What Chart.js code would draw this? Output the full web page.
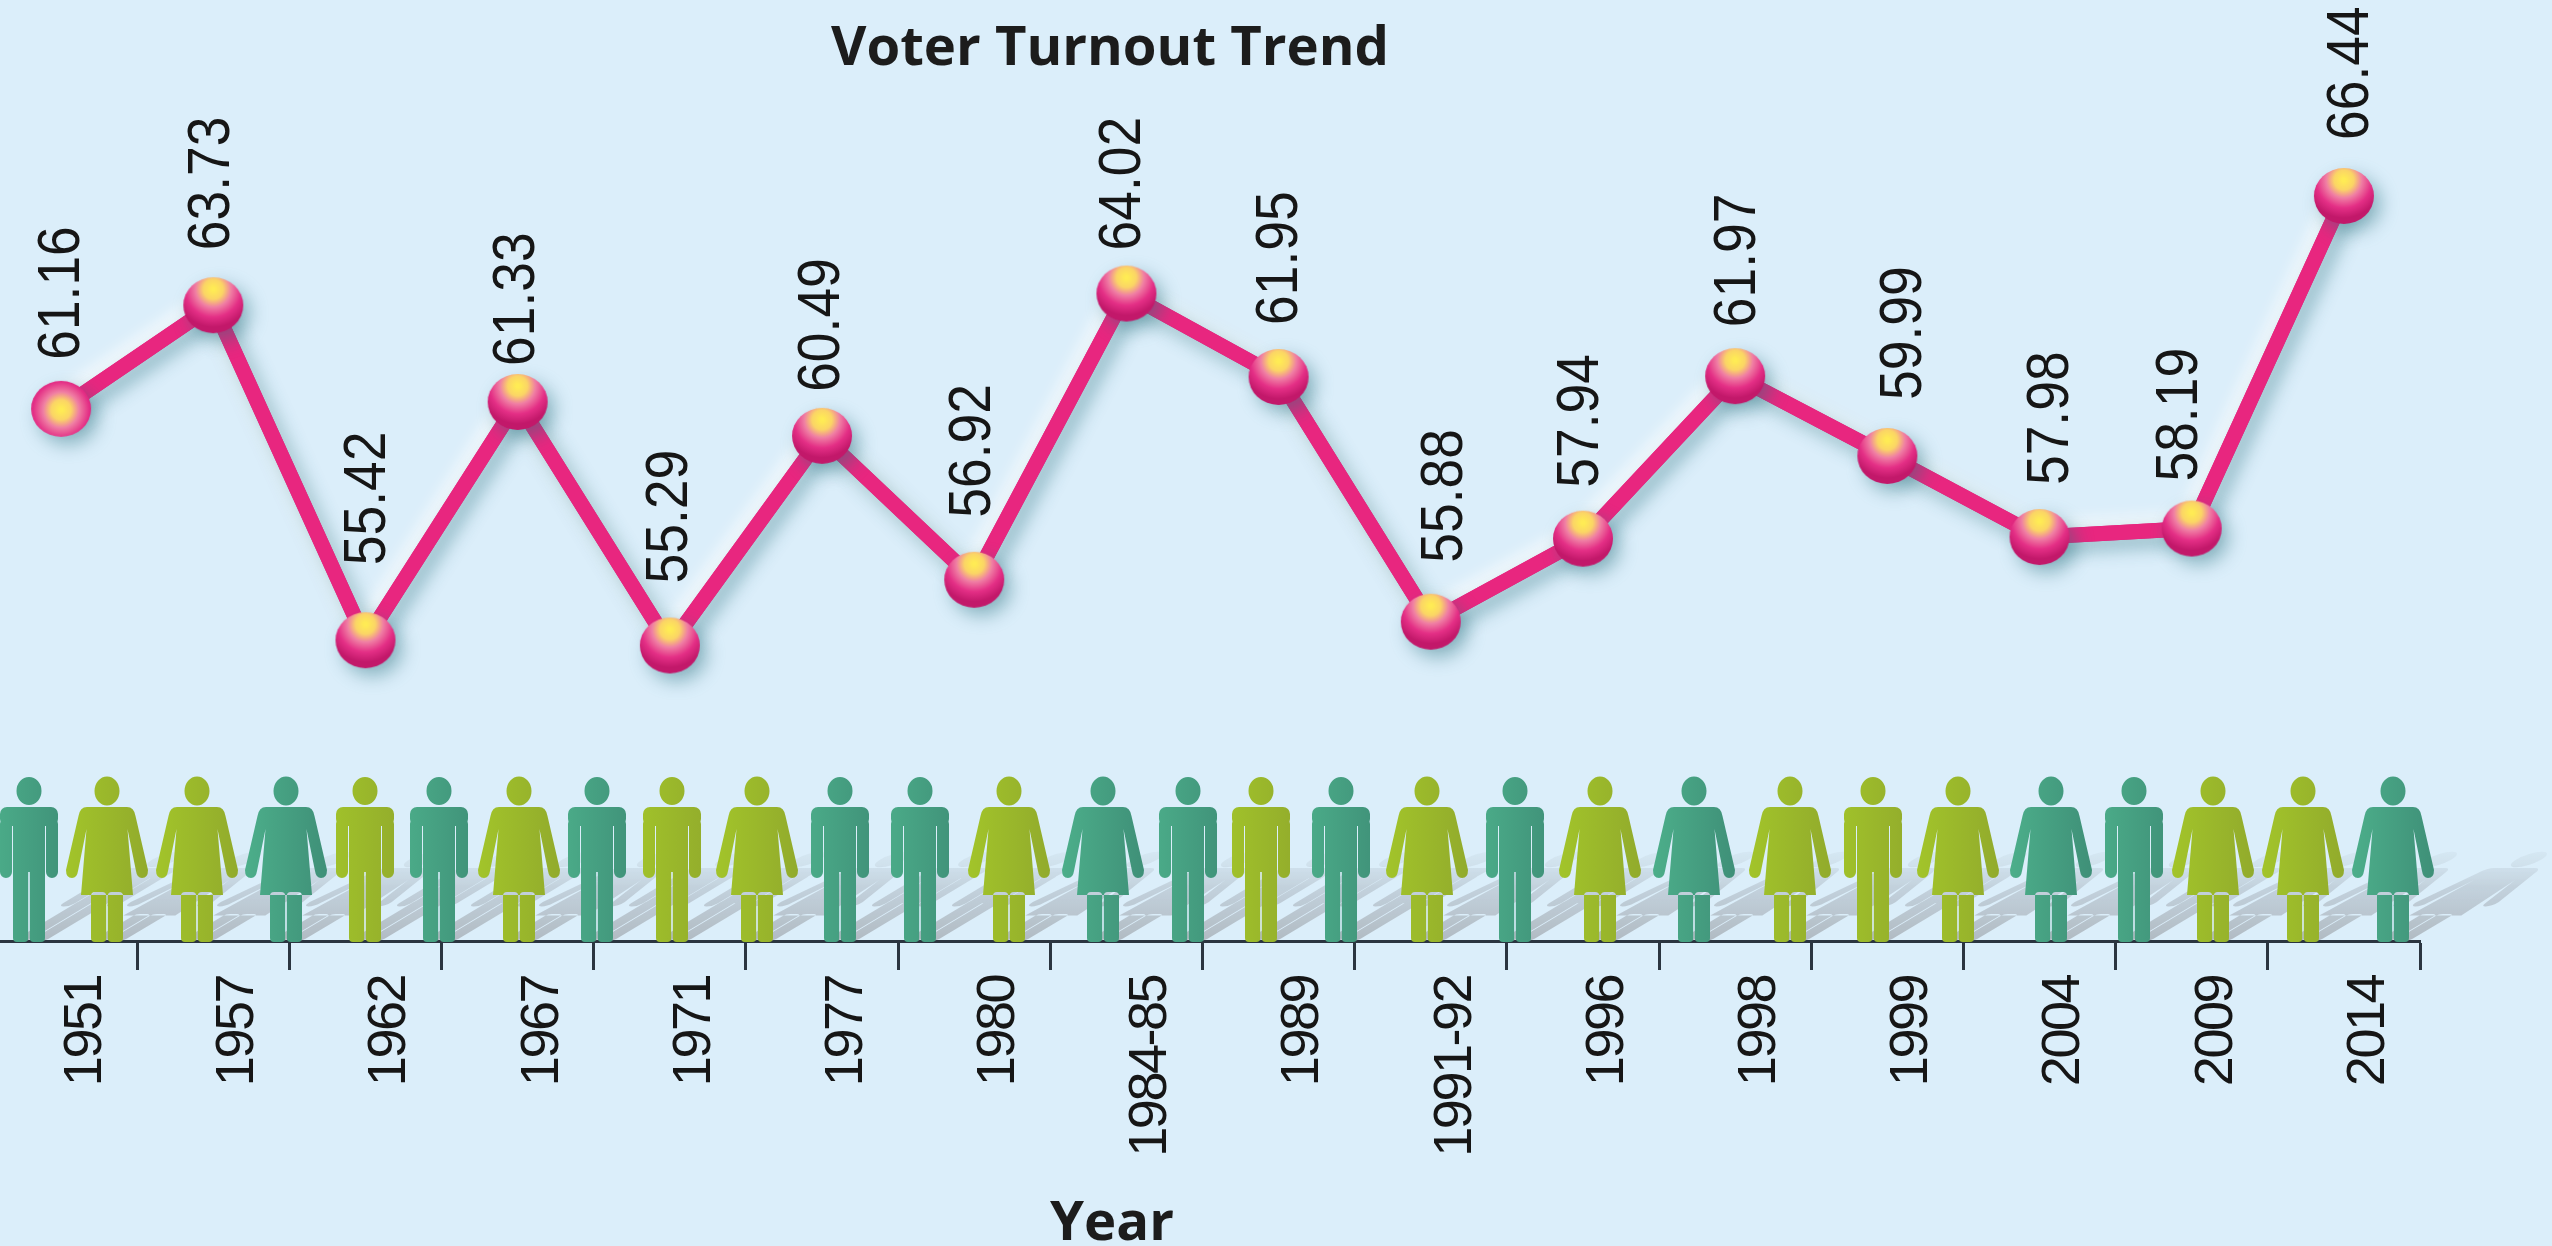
<!DOCTYPE html>
<html>
<head>
<meta charset="utf-8">
<style>
html,body{margin:0;padding:0;width:2552px;height:1246px;overflow:hidden;background:#DBEEFA}
#wrap{position:absolute;left:0;top:0;width:2552px;height:1246px;overflow:hidden}
canvas{position:absolute;left:-15px;top:0}
</style>
<script src="https://cdn.jsdelivr.net/npm/chart.js@4"></script>
</head>
<body>
<div id="wrap"><canvas id="c" width="2567" height="1246"></canvas></div>
<script>
const years = ['1951','1957','1962','1967','1971','1977','1980','1984-85','1989','1991-92','1996','1998','1999','2004','2009','2014'];
const turnout = [61.16,63.73,55.42,61.33,55.29,60.49,56.92,64.02,61.95,55.88,57.94,61.97,59.99,57.98,58.19,66.44];
const titleText = 'Voter Turnout Trend';
const axisText = 'Year';

// Label layout, kept apart from the values: [shift along x, gap above the point]
const labelShiftX = [1,-1,3,0,1,0,-1,-3,2,15,-2,3,17,12,-11,8];
const labelGap = [49,55,75,36,62,44,62,43,52,59,51,49,56,52,47,56];

// Decorative row of figures
const figureKinds = 'mwwwmmwmmwmmwwmmmwmwwwmwwmwww'.split('');
const figureTones = 'tlltltltllttlttltltltllltt'.concat('llt').split('');
const figureAt = [29,107,197,286,365,439,519,597,672,757,840,920,1009,1103,1188,1261,1341,1427,1515,1600,1694,1790,1873,1958,2051,2134,2213,2303,2393];

const OFFSET = 15, AXIS_Y = 941;
const FONT = '"Liberation Sans",Arial,sans-serif';

function sphere(hy){
  const c = document.createElement('canvas'); c.width = 64; c.height = 60;
  const g = c.getContext('2d');
  const gr = g.createRadialGradient(32, hy, 2, 32, hy, 38);
  gr.addColorStop(0,'#FFEB55'); gr.addColorStop(.22,'#FBD566'); gr.addColorStop(.44,'#F07FA4');
  gr.addColorStop(.72,'#E42F86'); gr.addColorStop(1,'#C2186A');
  g.fillStyle = gr; g.beginPath(); g.ellipse(32,30,30,28,0,0,Math.PI*2); g.fill();
  return c;
}
const ballTop = sphere(14), ballMid = sphere(31);

function manPath(c){
  c.beginPath();
  c.ellipse(0,151,12.5,14,0,0,Math.PI*2);
  c.roundRect(-29,116,58,19,7);
  c.roundRect(-29,64,12,60,6);
  c.roundRect(17,64,12,60,6);
  c.rect(-16,70,32,50);
  c.roundRect(-16,0,15.2,76,4);
  c.roundRect(0.8,0,15.2,76,4);
}
function womanPath(c){
  c.beginPath();
  c.ellipse(0,151,12.5,14.5,0,0,Math.PI*2);
  c.moveTo(-20,135); c.lineTo(20,135);
  c.quadraticCurveTo(27,135,28.5,126);
  c.lineTo(41,72); c.quadraticCurveTo(41,64,35,64); c.quadraticCurveTo(30,64,29,71);
  c.lineTo(20.5,113); c.lineTo(26,47); c.lineTo(-26,47); c.lineTo(-20.5,113);
  c.lineTo(-29,71); c.quadraticCurveTo(-30,64,-35,64); c.quadraticCurveTo(-41,64,-41,72);
  c.lineTo(-28.5,126); c.quadraticCurveTo(-27,135,-20,135);
  c.closePath();
  c.roundRect(-16,0,15.2,50,4);
  c.roundRect(0.8,0,15.2,50,4);
}

const scenery = {
  id:'scenery',
  beforeDraw(chart){ chart.ctx.letterSpacing = '-2.5px'; },
  beforeDatasetsDraw(chart){
    const c = chart.ctx;
    c.letterSpacing = '0px';
    c.save();
    figureAt.forEach((x,i)=>{
      c.save();
      c.transform(1,0,0.9,-0.54,x+OFFSET,AXIS_Y);
      const g = c.createLinearGradient(0,0,0,165);
      g.addColorStop(0,'rgba(160,166,172,.72)'); g.addColorStop(.6,'rgba(170,180,190,.5)'); g.addColorStop(1,'rgba(190,205,215,.2)');
      c.fillStyle = g;
      (figureKinds[i]==='m'?manPath:womanPath)(c);
      c.fill();
      c.restore();
    });
    figureAt.forEach((x,i)=>{
      c.save();
      c.transform(1,0,0,-1,x+OFFSET,AXIS_Y+1);
      const g = c.createLinearGradient(-40,0,40,0);
      if(figureTones[i]==='t'){ g.addColorStop(0,'#4CAE8A'); g.addColorStop(1,'#3F9078'); }
      else { g.addColorStop(0,'#A2C42A'); g.addColorStop(1,'#92AB2C'); }
      c.fillStyle = g;
      (figureKinds[i]==='m'?manPath:womanPath)(c);
      c.fill();
      c.restore();
    });
    c.restore();
  },
  beforeDatasetDraw(chart,args){
    const c = chart.ctx, meta = args.meta;
    c.save();
    c.shadowColor='rgba(255,255,255,.85)'; c.shadowBlur=16; c.shadowOffsetX=-5; c.shadowOffsetY=-6;
    meta.dataset.draw(c, chart.chartArea);
    c.restore();
    c.shadowColor='rgba(40,110,125,.45)'; c.shadowBlur=18; c.shadowOffsetX=7; c.shadowOffsetY=8;
  },
  afterDatasetDraw(chart){
    const c = chart.ctx;
    c.shadowColor='transparent'; c.shadowBlur=0; c.shadowOffsetX=0; c.shadowOffsetY=0;
  },
  afterDraw(chart){
    const c = chart.ctx, xs = chart.scales.x, ys = chart.scales.y;
    c.save();
    c.fillStyle='#161616';
    c.font='60px '+FONT;
    c.textAlign='left'; c.textBaseline='middle';
    turnout.forEach((v,i)=>{
      c.save();
      c.translate(xs.getPixelForValue(i)+labelShiftX[i], ys.getPixelForValue(v)-labelGap[i]);
      c.rotate(-Math.PI/2);
      c.scale(0.89,1);
      c.fillText(v.toFixed(2),0,0);
      c.restore();
    });
    c.textAlign='center'; c.fillStyle='#1C1C1C';
    c.font='bold 54.5px "Open Sans",sans-serif';
    c.fillText(titleText,1110+OFFSET,49);
    c.fillText(axisText,1112+OFFSET,1224);
    c.restore();
  }
};

new Chart(document.getElementById('c'),{
  type:'line',
  data:{labels:years,datasets:[{
    data:turnout,
    borderColor:'#E8267F',
    borderWidth:15,
    borderCapStyle:'round',
    borderJoinStyle:'round',
    tension:0,
    clip:false,
    pointStyle:turnout.map((v,i)=>i===0?ballMid:ballTop),
    pointRadius:30
  }]},
  plugins:[scenery],
  options:{
    responsive:false,
    animation:false,
    layout:{autoPadding:false,padding:{left:0,right:132,top:0,bottom:0}},
    plugins:{legend:{display:false},tooltip:{enabled:false},title:{display:false}},
    scales:{
      y:{display:false,min:47.96,max:71.3},
      x:{
        offset:true,
        afterFit(s){s.height=1246-AXIS_Y;s.paddingLeft=0;s.paddingRight=0;s.paddingTop=0;s.paddingBottom=0;},
        grid:{offset:true,drawOnChartArea:false,drawTicks:true,tickLength:29,tickWidth:3,tickColor:'#2B3540'},
        border:{display:true,color:'#2B3540',width:3},
        ticks:{
          autoSkip:false,minRotation:90,maxRotation:90,padding:6,labelOffset:25,
          color:'#161616',font:{family:FONT,size:54}
        }
      }
    }
  }
});
</script>
</body>
</html>
